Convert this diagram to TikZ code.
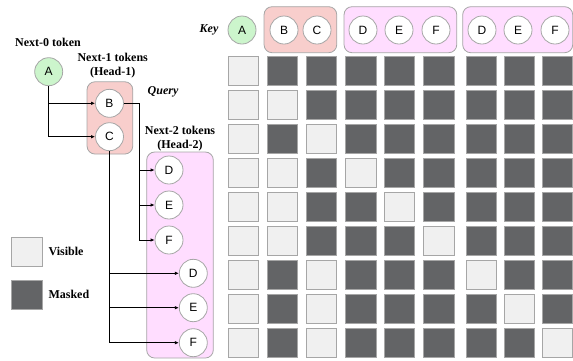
\documentclass[tikz,border=0pt]{standalone}
\usepackage{fontspec}
\setmainfont{Liberation Serif}
\newfontfamily\tokfont{Liberation Sans}
\usepackage{tikz}
\usetikzlibrary{arrows.meta,positioning,calc}
\definecolor{nextzero} {HTML}{CCF5CC}
\definecolor{headone}  {HTML}{F8CECC}
\definecolor{headtwo}  {HTML}{FFDDFF}
\definecolor{cellvis}  {HTML}{F0F0F0}
\definecolor{cellmask} {HTML}{636466}
\definecolor{edgegray} {HTML}{A6A6A6}

\begin{document}
\begin{tikzpicture}[
  tok/.style={circle,draw=edgegray,fill=white,line width=0.8pt,
              minimum size=28pt,inner sep=0pt,
              font=\tokfont\fontsize{12}{14}\selectfont},
  grp/.style={draw=edgegray,line width=0.8pt,rounded corners=8pt},
  lbl/.style={font=\bfseries\fontsize{12}{14.5}\selectfont,align=center},
  cell1/.style={draw=edgegray,fill=cellvis,line width=0.8pt,
                minimum width=30.5pt,minimum height=29pt,inner sep=0pt},
  cell0/.style={draw=edgegray,fill=cellmask,line width=0.8pt,
                minimum width=30.5pt,minimum height=29pt,inner sep=0pt},
  arr/.style={-{Latex[length=4pt,width=3.5pt]},line width=0.8pt},
  x=1pt,y=-1pt
]
\useasboundingbox (0,0) rectangle (573,360);

% Token tree
\node[lbl] (lab0) at (48,42) {Next-0 token};
\node[tok,fill=nextzero] (A) at (48.7,71.7) {A};
\node[lbl] (lab1) at (112.7,65.5) {Next-1 tokens\\(Head-1)};
\node[grp,fill=headone,minimum width=45.7pt,minimum height=72.3pt] (h1) at (109.9,117.9) {};
\node[tok] (B) at (109.5,103.3) {B};
\node[tok] (C) at (109.5,136.7) {C};
\node[font=\bfseries\itshape\fontsize{12}{14}\selectfont] (query) at (163,91.7) {Query};
\node[lbl] (lab2) at (180,138.5) {Next-2 tokens\\(Head-2)};
\node[grp,fill=headtwo,minimum width=66.6pt,minimum height=206pt] (h2) at (180,255) {};
\node[tok] (D1) at (169,170) {D};
\node[tok] (E1) at (169,205) {E};
\node[tok] (F1) at (169,240) {F};
\node[tok] (D2) at (193.3,273.3) {D};
\node[tok] (E2) at (193.3,307.7) {E};
\node[tok] (F2) at (193.3,342.7) {F};
\coordinate (bturn) at (139.3,103.3);

\draw[arr] (A.south) |- (B.west);
\draw[arr] (A.south) |- (C.west);
\draw[arr] (B.east) -- (bturn) |- (D1.west);
\draw[arr] (bturn) |- (E1.west);
\draw[arr] (bturn) |- (F1.west);
\draw[arr] (C.south) |- (D2.west);
\draw[arr] (C.south) |- (E2.west);
\draw[arr] (C.south) |- (F2.west);

% Legend
\node[cell1] (legvis) at (27,251.5) {};
\node[lbl,anchor=west] (legvistxt) at (45,251) {Visible};
\node[cell0] (legmask) at (27,294.5) {};
\node[lbl,anchor=west] (legmasktxt) at (45,294) {Masked};

% Key row
\node[font=\bfseries\itshape\fontsize{12}{14}\selectfont] (key) at (209,30) {Key};
\node[grp,fill=headone,minimum width=72.7pt,minimum height=46pt] (kh1) at (300.4,29.7) {};
\node[grp,fill=headtwo,minimum width=112.7pt,minimum height=46pt] (kh2a) at (400.4,29.7) {};
\node[grp,fill=headtwo,minimum width=110pt,minimum height=46pt] (kh2b) at (517.7,29.7) {};
\node[tok,fill=nextzero] (kA) at (242,30) {A};
\node[tok] (kB)  at (284,30) {B};
\node[tok] (kC)  at (317,30) {C};
\node[tok] (kD1) at (363,30) {D};
\node[tok] (kE1) at (399,30) {E};
\node[tok] (kF1) at (436,30) {F};
\node[tok] (kD2) at (482,30) {D};
\node[tok] (kE2) at (518,30) {E};
\node[tok] (kF2) at (555,30) {F};

% Attention mask (1 = visible, 0 = masked)
\foreach \pat [count=\r] in {{1,0,0,0,0,0,0,0,0},
                             {1,1,0,0,0,0,0,0,0},
                             {1,0,1,0,0,0,0,0,0},
                             {1,1,0,1,0,0,0,0,0},
                             {1,1,0,0,1,0,0,0,0},
                             {1,1,0,0,0,1,0,0,0},
                             {1,0,1,0,0,0,1,0,0},
                             {1,0,1,0,0,0,0,1,0},
                             {1,0,1,0,0,0,0,0,1}}{
  \foreach \v [count=\c] in \pat {
    \pgfmathsetmacro\cx{{243.5,282.5,321.5,361,399.5,439,481.5,519.5,557.5}[\c-1]}
    \node[cell\v] (cell-\r-\c) at (\cx,{70.5+34*(\r-1)}) {};
  }
}
\end{tikzpicture}
\end{document}
